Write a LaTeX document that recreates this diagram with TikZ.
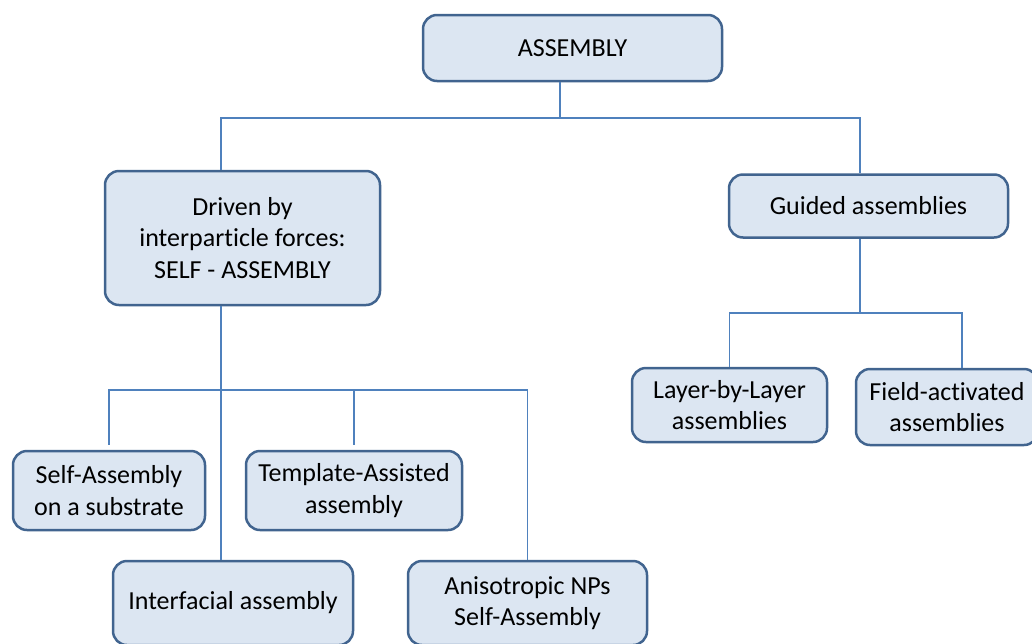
\documentclass[tikz,border=0pt]{standalone}
\usepackage{fontspec}
\setmainfont[Ligatures=NoCommon]{Carlito}
\usepackage{xcolor}
\definecolor{boxfill}{HTML}{DCE6F2}
\definecolor{boxline}{HTML}{41648F}
\definecolor{linkblue}{HTML}{4F81BD}

\begin{document}
\begin{tikzpicture}[x=1pt, y=-1pt,
  main/.style = {draw=boxline, fill=boxfill, line width=2.5pt, rounded corners=14pt, align=center, inner sep=0pt, font=\fontsize{26}{31.5}\selectfont},
  link/.style = {draw=linkblue, line width=1.3pt}]
\useasboundingbox (0,0) rectangle (1032,643);

\node[main, minimum width=299pt, minimum height=66pt] (assembly) at (572.5,48) {ASSEMBLY};
\node[main, minimum width=275pt, minimum height=134pt] (driven) at (242.5,238) {Driven by\\interparticle forces:\\SELF - ASSEMBLY};
\node[main, minimum width=279pt, minimum height=63pt] (guided) at (868.5,206) {Guided assemblies};
\node[main, minimum width=192pt, minimum height=79pt] (selfsub) at (109,490.5) {Self-Assembly\\on a substrate};
\node[main, minimum width=216pt, minimum height=79pt] (templ) at (354,490.5) {Template-Assisted\\assembly};
\node[main, minimum width=240pt, minimum height=84pt] (inter) at (233,603) {Interfacial assembly};
\node[main, minimum width=239pt, minimum height=84pt] (aniso) at (527.5,603) {Anisotropic NPs\\Self-Assembly};
\node[main, minimum width=195pt, minimum height=74pt] (layer) at (729.5,405) {Layer-by-Layer\\assemblies};
\node[main, minimum width=182pt, minimum height=76pt] (field) at (947,407) {Field-activated\\assemblies};

\coordinate (top) at (560,118);
\coordinate (mid) at (221,390);
\coordinate (rt) at (860,313);
\coordinate (fx) at (962,0);

\draw[link] (assembly.south -| top) -- (top);
\draw[link] (top) -| (driven.north -| mid);
\draw[link] (top) -| (guided.north -| rt);
\draw[link] (driven.south -| mid) -- (inter.north -| mid);
\draw[link, shorten >=5pt] (mid) -| (selfsub.north);
\draw[link, shorten >=5pt] (mid) -| (templ.north);
\draw[link] (mid) -| (aniso.north);
\draw[link] (guided.south -| rt) -- (rt);
\draw[link] (rt) -| (layer.north);
\draw[link] (rt) -| (field.north -| fx);
\end{tikzpicture}
\end{document}
